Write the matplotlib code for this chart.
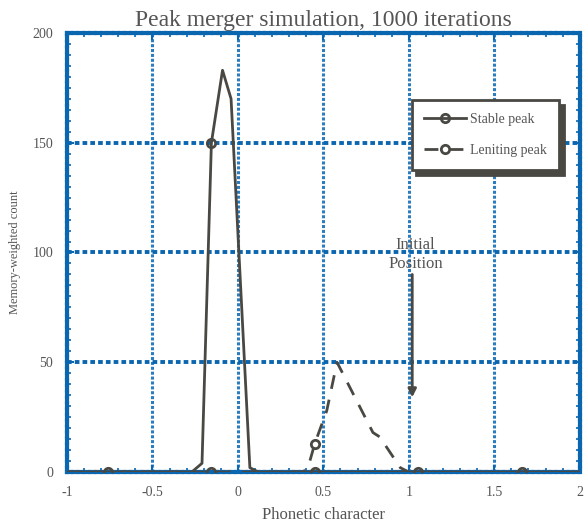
import matplotlib.pyplot as plt
import numpy as np
from matplotlib.ticker import MultipleLocator

# stable peak
stable_x = [-1.0, -0.76, -0.27, -0.21, -0.155, -0.09, -0.04, 0.07, 0.12, 0.45, 1.055, 1.66, 2.0]
stable_y = [0, 0, 0, 4, 150, 183, 170, 2, 0, 0, 0, 0, 0]
stable_marks = [1, 4, 9, 10, 11]

# leniting peak
len_x = [-1.0, -0.16, 0.38, 0.41, 0.45, 0.52, 0.58, 0.79, 0.83, 0.95, 1.0]
len_y = [0, 0, 0, 2, 13, 28, 50, 18, 16, 2, 0]
len_marks = [1, 4]

blue = '#0b66b0'
ink = '#4a4843'
txt = '#555555'

plt.rcParams['font.family'] = ['Liberation Serif', 'DejaVu Serif']

fig = plt.figure(figsize=(5.85, 5.31), dpi=100)
ax = fig.add_axes([0.1145, 0.111, 0.8765, 0.827])

ax.plot(stable_x, stable_y, '-', color=ink, lw=2, marker='o', ms=6, mfc='none',
        mew=2, markevery=stable_marks, label='Stable peak', zorder=3)
ax.plot(len_x, len_y, '--', color=ink, lw=2, marker='o', ms=6, mfc='none',
        mew=2, markevery=len_marks, dashes=(5, 4), label='Leniting peak', zorder=3)

ax.set_xlim(-1, 2)
ax.set_ylim(0, 200)
ax.set_xticks([-1, -0.5, 0, 0.5, 1, 1.5, 2])
ax.set_xticklabels(['-1', '-0.5', '0', '0.5', '1', '1.5', '2'])
ax.set_yticks([0, 50, 100, 150, 200])
ax.xaxis.set_minor_locator(MultipleLocator(0.1))
ax.yaxis.set_minor_locator(MultipleLocator(5))
ax.tick_params(which='both', direction='in', top=True, right=True, color=blue,
               labelcolor=txt, labelsize=10)
ax.tick_params(which='major', length=5, width=1.5, pad=10)
ax.tick_params(which='minor', length=3, width=1.2)

ax.yaxis.grid(True, ls=(0, (1.2, 0.8)), lw=2.8, color=blue)
ax.xaxis.grid(True, ls=(0, (1, 0.6)), lw=2.2, color='#2c7cc0')
ax.set_axisbelow(True)
for s in ax.spines.values():
    s.set_color(blue)
    s.set_linewidth(3)
    s.set_linestyle((0, (1, 0.4)))

ax.set_title('Peak merger simulation, 1000 iterations', fontsize=17, color=txt, pad=5)
ax.set_xlabel('Phonetic character', fontsize=12, color=txt, labelpad=6)
ax.set_ylabel('Memory-weighted count', fontsize=9, color=txt, labelpad=8)

ax.text(1.04, 99, 'Initial\nPosition', ha='center', va='center', fontsize=12,
        color=txt, linespacing=1.3)
ax.annotate('', xy=(1.02, 34), xytext=(1.02, 90),
            arrowprops=dict(arrowstyle='-|>', color=ink, lw=2, mutation_scale=12,
                            shrinkA=0, shrinkB=0))

leg = ax.legend(loc='upper left', bbox_to_anchor=(0.672, 0.847), fontsize=10,
                frameon=True, fancybox=False,
                shadow={'color': ink, 'alpha': 1, 'ox': 3.5, 'oy': -3.5},
                labelcolor=txt, handlelength=3.0, labelspacing=1.35, borderpad=0.9,
                handletextpad=0.3, borderaxespad=0)
leg.get_frame().set_edgecolor(ink)
leg.get_frame().set_linewidth(2)

fig.savefig('out.png', dpi=100)
